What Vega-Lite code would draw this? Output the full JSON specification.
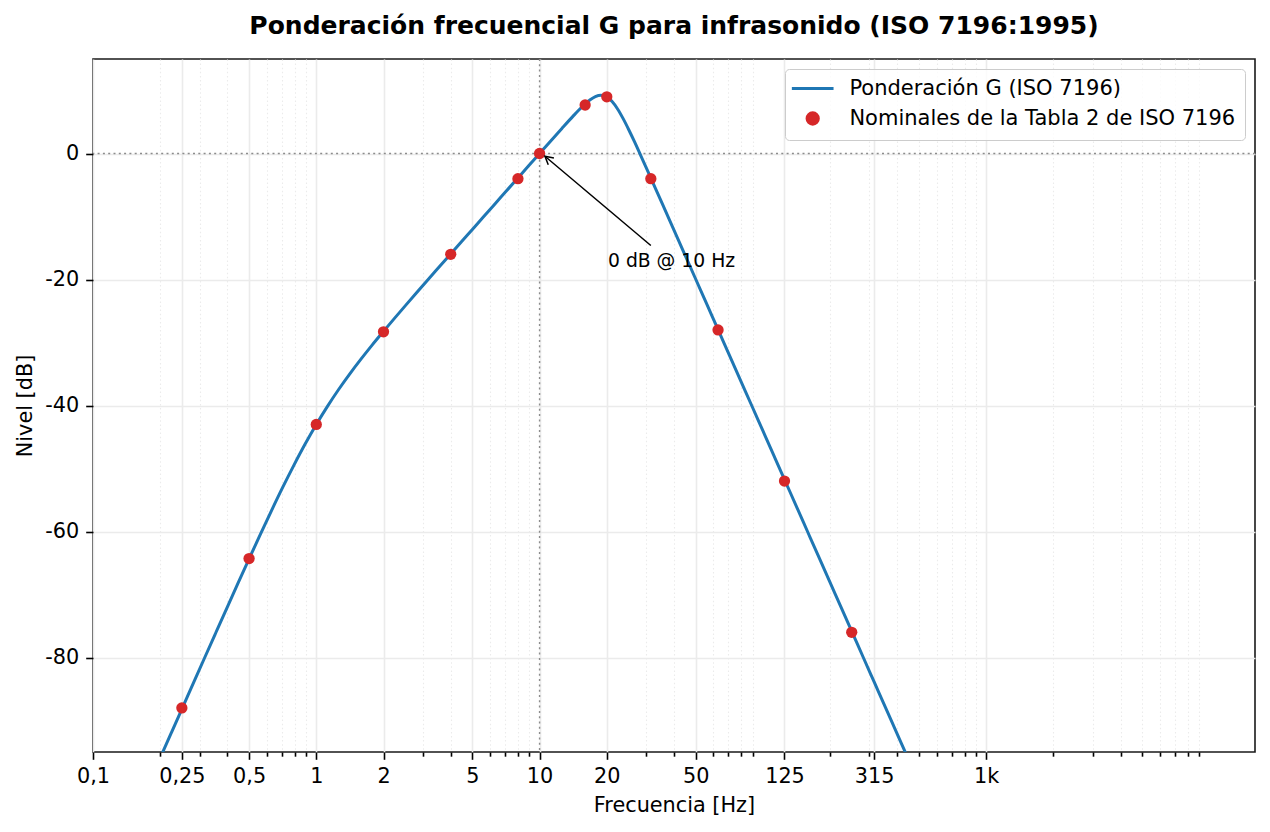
{
  "$schema": "https://vega.github.io/schema/vega-lite/v6.json",
  "width": 1162,
  "height": 693,
  "autosize": {"type": "none"},
  "padding": {"left": 93, "top": 59, "right": 15, "bottom": 80},
  "background": "white",
  "title": {
    "text": "Ponderación frecuencial G para infrasonido (ISO 7196:1995)",
    "font": "DejaVu Sans",
    "fontSize": 25,
    "fontWeight": "bold",
    "color": "black",
    "anchor": "middle",
    "frame": "group",
    "offset": 19
  },
  "config": {
    "font": "DejaVu Sans",
    "view": {"stroke": "#1a1a1a", "strokeWidth": 1.6},
    "axis": {
      "domain": false,
      "labelFont": "DejaVu Sans",
      "labelFontSize": 20.8,
      "labelColor": "black",
      "labelPadding": 7,
      "titleFont": "DejaVu Sans",
      "titleFontSize": 20.8,
      "titleFontWeight": "normal",
      "titleColor": "black",
      "tickColor": "black",
      "tickWidth": 1.6,
      "gridColor": "#ebebeb",
      "gridWidth": 1.6
    }
  },
  "datasets": {
    "curve": [
      {"f": 0.1, "g": -120.0}, {"f": 0.1122, "g": -116.0}, {"f": 0.1259, "g": -112.0},
      {"f": 0.1413, "g": -108.0}, {"f": 0.1585, "g": -104.0}, {"f": 0.1778, "g": -100.0},
      {"f": 0.1995, "g": -96.01}, {"f": 0.2239, "g": -92.01}, {"f": 0.2512, "g": -88.02},
      {"f": 0.2818, "g": -84.03}, {"f": 0.3162, "g": -80.04}, {"f": 0.3548, "g": -76.07},
      {"f": 0.3981, "g": -72.11}, {"f": 0.4467, "g": -68.17}, {"f": 0.5012, "g": -64.27},
      {"f": 0.5623, "g": -60.41}, {"f": 0.631, "g": -56.64}, {"f": 0.7079, "g": -52.97},
      {"f": 0.7943, "g": -49.46}, {"f": 0.8913, "g": -46.12}, {"f": 1.0, "g": -43.01},
      {"f": 1.122, "g": -40.13}, {"f": 1.259, "g": -37.46}, {"f": 1.413, "g": -34.97},
      {"f": 1.585, "g": -32.64}, {"f": 1.778, "g": -30.41}, {"f": 1.995, "g": -28.27},
      {"f": 2.239, "g": -26.17}, {"f": 2.512, "g": -24.11}, {"f": 2.818, "g": -22.07},
      {"f": 3.162, "g": -20.04}, {"f": 3.548, "g": -18.03}, {"f": 3.981, "g": -16.02},
      {"f": 4.467, "g": -14.01}, {"f": 5.012, "g": -12.01}, {"f": 5.623, "g": -10.0},
      {"f": 6.31, "g": -8.0}, {"f": 7.079, "g": -6.0}, {"f": 7.943, "g": -4.0},
      {"f": 8.913, "g": -2.0}, {"f": 10.0, "g": 0.0}, {"f": 11.22, "g": 2.0},
      {"f": 12.59, "g": 3.98}, {"f": 14.13, "g": 5.93}, {"f": 14.96, "g": 6.86},
      {"f": 15.85, "g": 7.73}, {"f": 16.79, "g": 8.49}, {"f": 17.78, "g": 9.03},
      {"f": 18.84, "g": 9.24}, {"f": 19.95, "g": 8.99}, {"f": 21.13, "g": 8.24},
      {"f": 22.39, "g": 7.03}, {"f": 23.71, "g": 5.49}, {"f": 25.12, "g": 3.73},
      {"f": 26.61, "g": 1.87}, {"f": 28.18, "g": -0.07}, {"f": 29.85, "g": -2.03},
      {"f": 31.62, "g": -4.02}, {"f": 35.48, "g": -8.0}, {"f": 39.81, "g": -12.0},
      {"f": 44.67, "g": -16.0}, {"f": 50.12, "g": -20.0}, {"f": 56.23, "g": -24.0},
      {"f": 63.1, "g": -28.0}, {"f": 70.79, "g": -32.0}, {"f": 79.43, "g": -36.0},
      {"f": 89.13, "g": -40.0}, {"f": 100.0, "g": -44.0}, {"f": 112.2, "g": -48.0},
      {"f": 125.9, "g": -52.0}, {"f": 141.3, "g": -56.0}, {"f": 158.5, "g": -60.0},
      {"f": 177.8, "g": -64.0}, {"f": 199.5, "g": -68.0}, {"f": 223.9, "g": -72.0},
      {"f": 251.2, "g": -76.0}, {"f": 281.8, "g": -80.0}, {"f": 316.2, "g": -84.0},
      {"f": 354.8, "g": -88.0}, {"f": 398.1, "g": -92.0}, {"f": 446.7, "g": -96.0},
      {"f": 501.2, "g": -100.0}
    ],
    "nominal": [
      {"f": 0.25, "g": -88.0}, {"f": 0.5, "g": -64.3}, {"f": 1, "g": -43.0},
      {"f": 2, "g": -28.3}, {"f": 4, "g": -16.0}, {"f": 8, "g": -4.0},
      {"f": 10, "g": 0.0}, {"f": 16, "g": 7.7}, {"f": 20, "g": 9.0},
      {"f": 31.5, "g": -4.0}, {"f": 63, "g": -28.0}, {"f": 125, "g": -52.0},
      {"f": 250, "g": -76.0}
    ]
  },
  "layer": [
    {
      "data": {"values": [{}]},
      "mark": {"type": "rule", "stroke": "#8c8c8c", "strokeWidth": 1.4, "strokeDash": [2, 3.3]},
      "encoding": {"x": {"datum": 10, "type": "quantitative"}}
    },
    {
      "data": {"values": [{}]},
      "mark": {"type": "rule", "stroke": "#8c8c8c", "strokeWidth": 1.4, "strokeDash": [2, 3.3]},
      "encoding": {"y": {"datum": 0, "type": "quantitative"}}
    },
    {
      "data": {"name": "curve"},
      "mark": {"type": "line", "strokeWidth": 3, "interpolate": "monotone", "clip": true},
      "encoding": {
        "x": {
          "field": "f",
          "type": "quantitative",
          "scale": {"type": "log", "domain": [0.1, 16000], "nice": false},
          "axis": {
            "title": "Frecuencia [Hz]",
            "titlePadding": 9,
            "grid": true,
            "values": [0.1, 0.2, 0.25, 0.3, 0.4, 0.5, 0.6, 0.7, 0.8, 0.9, 1, 2, 3, 4, 5, 6, 7, 8, 9, 10, 20, 30, 40, 50, 60, 70, 80, 90, 125, 200, 300, 315, 400, 500, 600, 700, 800, 900, 1000, 2000, 3000, 4000, 5000, 6000, 7000, 8000, 9000],
            "labelExpr": "indexof([0.1, 0.25, 0.5, 1, 2, 5, 10, 20, 50, 125, 315, 1000], datum.value) < 0 ? '' : (datum.value >= 1000 ? '1k' : replace(toString(datum.value), '.', ','))",
            "labelFlush": false,
            "labelOverlap": false,
            "labelBaseline": "top",
            "tickSize": {"condition": {"test": "indexof([0.1, 0.25, 0.5, 1, 2, 5, 10, 20, 50, 125, 315, 1000], datum.value) >= 0", "value": 7.3}, "value": 4.2},
            "gridColor": {"condition": {"test": "indexof([0.1, 0.25, 0.5, 1, 2, 5, 10, 20, 50, 125, 315, 1000], datum.value) >= 0", "value": "#ebebeb"}, "value": "#ebebeb"},
            "gridDash": {"condition": {"test": "indexof([0.1, 0.25, 0.5, 1, 2, 5, 10, 20, 50, 125, 315, 1000], datum.value) >= 0", "value": []}, "value": [1.5, 2.6]},
            "gridWidth": {"condition": {"test": "indexof([0.1, 0.25, 0.5, 1, 2, 5, 10, 20, 50, 125, 315, 1000], datum.value) >= 0", "value": 1.6}, "value": 1.1}
          }
        },
        "y": {
          "field": "g",
          "type": "quantitative",
          "scale": {"domain": [-95, 15], "nice": false, "zero": false},
          "axis": {
            "title": "Nivel [dB]",
            "titlePadding": 9,
            "grid": true,
            "values": [-80, -60, -40, -20, 0],
            "labelExpr": "toString(datum.value)",
            "tickSize": 7.3
          }
        },
        "color": {
          "datum": "Ponderación G (ISO 7196)",
          "type": "nominal",
          "scale": {
            "domain": ["Ponderación G (ISO 7196)", "Nominales de la Tabla 2 de ISO 7196"],
            "range": ["#1f77b4", "#d62728"]
          },
          "legend": {
            "title": null,
            "orient": "top-right",
            "offset": 10,
            "padding": 9,
            "fillColor": "rgba(255,255,255,0.8)",
            "strokeColor": "#cccccc",
            "cornerRadius": 4,
            "labelFont": "DejaVu Sans",
            "labelFontSize": 21,
            "labelColor": "black",
            "labelLimit": 0,
            "rowPadding": 7,
            "symbolSize": 127,
            "symbolStrokeWidth": 3,
            "symbolOffset": 8.2,
            "labelOffset": 26.2,
            "encode": {
              "symbols": {
                "update": {
                  "shape": {"signal": "datum.value === 'Ponderación G (ISO 7196)' ? 'M-3.7,0H3.7' : 'circle'"},
                  "size": {"value": 127},
                  "stroke": {"signal": "datum.value === 'Ponderación G (ISO 7196)' ? '#1f77b4' : 'transparent'"},
                  "fill": {"signal": "datum.value === 'Ponderación G (ISO 7196)' ? 'transparent' : '#d62728'"},
                  "strokeWidth": {"value": 3},
                  "opacity": {"value": 1}
                }
              }
            }
          }
        }
      }
    },
    {
      "data": {"name": "nominal"},
      "mark": {"type": "circle", "size": 127, "opacity": 1},
      "encoding": {
        "x": {"field": "f", "type": "quantitative"},
        "y": {"field": "g", "type": "quantitative"},
        "color": {"datum": "Nominales de la Tabla 2 de ISO 7196", "type": "nominal"}
      }
    },
    {
      "data": {"values": [{}]},
      "mark": {"type": "rule", "stroke": "black", "strokeWidth": 1.5},
      "encoding": {
        "x": {"datum": 31.5, "type": "quantitative"},
        "y": {"datum": -14.6, "type": "quantitative"},
        "x2": {"datum": 10.57},
        "y2": {"datum": -0.43}
      }
    },
    {
      "data": {"values": [{}]},
      "mark": {"type": "point", "shape": "M-1,-0.55L0,0L-1,0.55", "angle": 219.9, "size": 256, "filled": false, "stroke": "black", "strokeWidth": 1.5, "opacity": 1},
      "encoding": {
        "x": {"datum": 10.57, "type": "quantitative"},
        "y": {"datum": -0.43, "type": "quantitative"}
      }
    },
    {
      "data": {"values": [{}]},
      "mark": {"type": "text", "font": "DejaVu Sans", "fontSize": 18.75, "align": "center", "baseline": "middle", "color": "black"},
      "encoding": {
        "x": {"datum": 39, "type": "quantitative"},
        "y": {"datum": -17, "type": "quantitative"},
        "text": {"value": "0 dB @ 10 Hz"}
      }
    }
  ]
}
